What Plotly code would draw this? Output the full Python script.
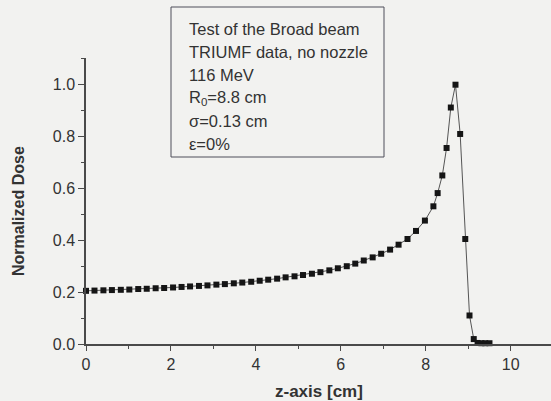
import plotly.graph_objects as go

# Depth-dose measurement (broad beam, TRIUMF, 116 MeV)
depth_cm = [
    0.00, 0.20, 0.41, 0.61, 0.82, 1.02, 1.23, 1.43, 1.64, 1.84,
    2.05, 2.25, 2.45, 2.66, 2.86, 3.07, 3.27, 3.48, 3.68, 3.89,
    4.09, 4.29, 4.50, 4.70, 4.91, 5.11, 5.32, 5.52, 5.73, 5.93,
    6.14, 6.34, 6.54, 6.75, 6.95, 7.16, 7.36, 7.57, 7.77, 7.98,
    8.18, 8.28, 8.39, 8.49, 8.59, 8.70, 8.81, 8.93, 9.03, 9.13,
    9.22, 9.31, 9.40, 9.50,
]
dose = [
    0.205, 0.206, 0.207, 0.208, 0.209, 0.210, 0.212, 0.213, 0.215, 0.216,
    0.218, 0.220, 0.222, 0.224, 0.226, 0.229, 0.231, 0.234, 0.237, 0.240,
    0.244, 0.248, 0.252, 0.257, 0.261, 0.266, 0.271, 0.277, 0.284, 0.292,
    0.300, 0.310, 0.322, 0.334, 0.348, 0.364, 0.383, 0.405, 0.436, 0.476,
    0.531, 0.582, 0.650, 0.756, 0.912, 1.000, 0.810, 0.405, 0.110, 0.019,
    0.004, 0.003, 0.003, 0.003,
]

x_ticks = [0, 2, 4, 6, 8, 10]
y_ticks = [0.0, 0.2, 0.4, 0.6, 0.8, 1.0]
y_tick_text = ["0.0", "0.2", "0.4", "0.6", "0.8", "1.0"]

info_lines = [
    "Test of the Broad beam",
    "TRIUMF data, no nozzle",
    "116 MeV",
    "R<sub>0</sub>=8.8 cm",
    "σ=0.13 cm",
    "ε=0%",
]

FONT = "Liberation Sans, Arial, sans-serif"
INK = "#333333"
AXIS = "#4a4a4a"

fig = go.Figure()
fig.add_trace(go.Scatter(
    x=depth_cm, y=dose, mode="lines+markers",
    line=dict(color="#555555", width=1),
    marker=dict(symbol="square", size=6, color="#151515",
                line=dict(width=0)),
    showlegend=False, cliponaxis=False,
))

W, H = 551, 401
L, R, T, B = 86, 0, 58, 57
pw, ph = W - L - R, H - T - B


def px(xp):
    return (xp - L) / pw


def py(yp):
    return (H - B - yp) / ph


# Info box frame
fig.add_shape(type="rect", xref="paper", yref="paper",
              x0=px(171), x1=px(384), y0=py(157), y1=py(7),
              line=dict(color="#4f4f5a", width=1), fillcolor="rgba(0,0,0,0)")

line_y = [28.5, 51.5, 75.5, 98.5, 121.0, 143.5]
for txt, yy in zip(info_lines, line_y):
    fig.add_annotation(text=txt, xref="paper", yref="paper",
                       x=px(187), y=py(yy), xanchor="left", yanchor="middle",
                       showarrow=False, font=dict(family=FONT, size=16.5, color=INK))

# Axis titles
fig.add_annotation(text="<b>Normalized Dose</b>", xref="paper", yref="paper",
                   x=px(18), y=py(211), textangle=-90, showarrow=False,
                   xanchor="center", yanchor="middle",
                   font=dict(family=FONT, size=16, color=INK))
fig.add_annotation(text="<b>z-axis [cm]</b>", xref="paper", yref="paper",
                   x=px(319), y=py(391), showarrow=False,
                   xanchor="center", yanchor="middle",
                   font=dict(family=FONT, size=17, color=INK))

fig.update_xaxes(
    range=[0, pw / 42.47], tickvals=x_ticks, ticktext=[str(v) for v in x_ticks],
    showgrid=False, zeroline=False, showline=True, linecolor=AXIS, linewidth=1.5,
    ticks="outside", ticklen=5, tickwidth=1.2, tickcolor=AXIS,
    minor=dict(ticks="outside", ticklen=3, dtick=1, tick0=0, tickcolor=AXIS, showgrid=False),
    tickfont=dict(family=FONT, size=16, color=INK),
)
fig.update_yaxes(
    range=[0, ph / 259.3], tickvals=y_ticks, ticktext=y_tick_text,
    showgrid=False, zeroline=False, showline=True, linecolor=AXIS, linewidth=1.5,
    ticks="outside", ticklen=6, tickwidth=1.2, tickcolor=AXIS,
    minor=dict(ticks="outside", ticklen=3, dtick=0.1, tick0=0, tickcolor=AXIS, showgrid=False),
    tickfont=dict(family=FONT, size=16, color=INK),
)

fig.update_layout(
    width=W, height=H,
    margin=dict(l=L, r=R, t=T, b=B, pad=0),
    paper_bgcolor="#f2f2f0", plot_bgcolor="#f2f2f0",
    font=dict(family=FONT, color=INK),
)

fig.write_html("out.html")
